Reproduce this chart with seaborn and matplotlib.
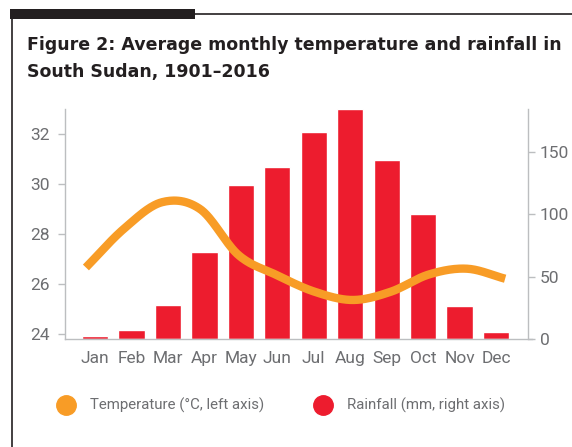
import numpy as np
import matplotlib
matplotlib.use("Agg")
import matplotlib.pyplot as plt
import seaborn as sns
from matplotlib.lines import Line2D
from matplotlib.patches import Rectangle

# Values
months = ["Jan", "Feb", "Mar", "Apr", "May", "Jun",
          "Jul", "Aug", "Sep", "Oct", "Nov", "Dec"]
rainfall = [2.5, 7.2, 27.1, 69.4, 123.7, 138.0, 166.0, 184.0, 143.6, 100.5, 26.3, 5.6]
temperature = [26.65, 28.2, 29.26, 28.98, 27.15, 26.35, 25.68, 25.35, 25.68, 26.37, 26.6, 26.2]
left_ticks = [24, 26, 28, 30, 32]
right_ticks = [0, 50, 100, 150]

title_lines = ["Figure 2: Average monthly temperature and rainfall in",
               "South Sudan, 1901\u20132016"]
temp_label = "Temperature (\u00b0C, left axis)"
rain_label = "Rainfall (mm, right axis)"

RED = "#ED1C2E"
ORANGE = "#F89C26"
GREY = "#6D6E71"
SPINE = "#BCBEC0"
DARK = "#231F20"

sns.set_theme(style="white")
plt.rcParams["font.family"] = ["Roboto", "DejaVu Sans"]


def smooth(y, n=30):
    # Catmull-Rom curve through the monthly points, for drawing only
    p = np.asarray(y, dtype=float)
    p = np.concatenate([[2 * p[0] - p[1]], p, [2 * p[-1] - p[-2]]])
    xs, ys = [], []
    for i in range(1, len(p) - 2):
        m0 = (p[i + 1] - p[i - 1]) / 2
        m1 = (p[i + 2] - p[i]) / 2
        t = np.linspace(0, 1, n, endpoint=False)
        h00 = 2 * t**3 - 3 * t**2 + 1
        h10 = t**3 - 2 * t**2 + t
        h01 = -2 * t**3 + 3 * t**2
        h11 = t**3 - t**2
        xs.append(i - 1 + t)
        ys.append(h00 * p[i] + h10 * m0 + h01 * p[i + 1] + h11 * m1)
    xs.append([len(y) - 1])
    ys.append([y[-1]])
    return np.concatenate(xs), np.concatenate(ys)


fig = plt.figure(figsize=(5.72, 4.47), dpi=100)
ax = fig.add_axes([0.1142, 0.2416, 0.8084, 0.5154])
ax2 = ax.twinx()

# rainfall bars on the right axis
sns.barplot(x=months, y=rainfall, color=RED, saturation=1, width=0.72,
            errorbar=None, ax=ax2)

# temperature line on the left axis, stretched slightly wider than the bars
sx, sy = smooth(temperature)
sx = -0.25 + sx * (11.5 / 11)
ax.plot(sx, sy, color=ORANGE, lw=6, solid_capstyle="butt", solid_joinstyle="round")

ax.set_zorder(ax2.get_zorder() + 1)
ax.patch.set_visible(False)

ax.set_xlim(-0.815, 11.87)
ax.set_ylim(23.79, 33.0)
ax2.set_ylim(0, 184.5)

ax.set_xticks(range(len(months)))
ax.set_xticklabels(months)
ax.set_yticks(left_ticks)
ax2.set_yticks(right_ticks)
ax.set_xlabel("")
ax2.set_xlabel("")
ax.set_ylabel("")
ax2.set_ylabel("")

ax.tick_params(axis="x", length=0, pad=8.5, labelsize=12.5, labelcolor=GREY)
ax.tick_params(axis="y", left=True, length=5, width=1, color=SPINE, pad=6,
               labelsize=12.5, labelcolor=GREY)
ax2.tick_params(axis="y", right=True, length=5, width=1, color=SPINE, pad=3.5,
                labelsize=12.5, labelcolor=GREY)

for a in (ax, ax2):
    for s in a.spines.values():
        s.set_visible(False)
ax.spines["left"].set_visible(True)
ax.spines["bottom"].set_visible(True)
ax2.spines["right"].set_visible(True)
for s in (ax.spines["left"], ax.spines["bottom"], ax2.spines["right"]):
    s.set_color(SPINE)
    s.set_linewidth(1)
ax.spines["bottom"].set_bounds(-0.815, 12.0)

# title, two lines
for line, base in zip(title_lines, (50, 77)):
    fig.text(27 / 572, 1 - base / 447, line, fontsize=12.55, fontweight="bold",
             family=["DejaVu Sans"], color=DARK, ha="left", va="baseline")

# frame decoration
fig.patches.append(Rectangle((10 / 572, 1 - 19 / 447), 185 / 572, 10 / 447,
                             transform=fig.transFigure, color=DARK, lw=0))
fig.lines.append(Line2D([195 / 572, 1], [1 - 14 / 447] * 2, transform=fig.transFigure,
                        color=DARK, lw=1.2))
fig.lines.append(Line2D([11.5 / 572] * 2, [0, 1 - 19 / 447], transform=fig.transFigure,
                        color=DARK, lw=1.2))

# legend, one entry each so both sit where the reference has them
for color, label, cx in ((ORANGE, temp_label, 66), (RED, rain_label, 323)):
    h = Line2D([], [], marker="o", ls="none", markersize=14, color=color)
    fig.legend([h], [label], loc="center left",
               bbox_to_anchor=((cx - 7.5) / 572, 1 - 405.5 / 447), frameon=False,
               fontsize=10.8, labelcolor=GREY, handlelength=1.0,
               handletextpad=1.1, borderpad=0, borderaxespad=0)

fig.savefig("out.png", dpi=100)
